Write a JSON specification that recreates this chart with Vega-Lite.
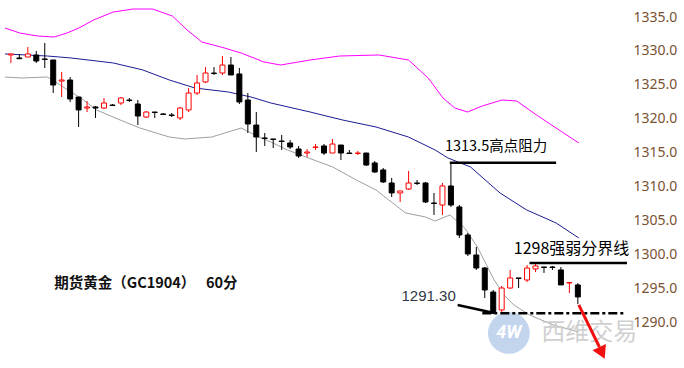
{
  "$schema": "https://vega.github.io/schema/vega-lite/v6.json",
  "width": 632,
  "height": 368,
  "padding": 0,
  "background": "white",
  "config": {"view": {"stroke": null}},
  "datasets": {
    "candles": [
      {"k":0,"o":1329.40,"c":1329.55,"h":1329.55,"l":1328.22},
      {"k":1,"o":1328.96,"c":1328.85,"h":1329.55,"l":1328.81},
      {"k":2,"o":1329.10,"c":1329.55,"h":1330.58,"l":1329.10},
      {"k":3,"o":1329.40,"c":1328.51,"h":1329.99,"l":1328.22},
      {"k":4,"o":1328.81,"c":1328.74,"h":1331.17,"l":1327.48},
      {"k":5,"o":1328.66,"c":1324.97,"h":1328.66,"l":1323.79},
      {"k":6,"o":1325.56,"c":1325.71,"h":1326.89,"l":1323.20},
      {"k":7,"o":1325.71,"c":1322.91,"h":1326.15,"l":1322.47},
      {"k":8,"o":1323.20,"c":1321.29,"h":1323.20,"l":1318.78},
      {"k":9,"o":1321.58,"c":1321.73,"h":1322.61,"l":1320.99},
      {"k":10,"o":1321.73,"c":1321.58,"h":1321.88,"l":1320.11},
      {"k":11,"o":1321.58,"c":1322.32,"h":1323.06,"l":1321.43},
      {"k":12,"o":1322.02,"c":1321.95,"h":1322.17,"l":1321.88},
      {"k":13,"o":1322.32,"c":1323.06,"h":1323.20,"l":1322.02},
      {"k":14,"o":1322.76,"c":1322.69,"h":1323.06,"l":1322.47},
      {"k":15,"o":1322.17,"c":1320.40,"h":1322.76,"l":1319.07},
      {"k":16,"o":1320.25,"c":1320.99,"h":1321.14,"l":1320.11},
      {"k":17,"o":1320.99,"c":1320.92,"h":1320.99,"l":1320.11},
      {"k":18,"o":1320.70,"c":1320.63,"h":1320.84,"l":1320.55},
      {"k":19,"o":1320.55,"c":1320.48,"h":1320.84,"l":1320.25},
      {"k":20,"o":1320.11,"c":1321.58,"h":1321.73,"l":1319.81},
      {"k":21,"o":1321.29,"c":1323.79,"h":1324.53,"l":1320.99},
      {"k":22,"o":1323.79,"c":1325.27,"h":1326.45,"l":1323.50},
      {"k":23,"o":1325.42,"c":1326.74,"h":1327.62,"l":1325.27},
      {"k":24,"o":1326.74,"c":1326.67,"h":1327.62,"l":1326.45},
      {"k":25,"o":1326.74,"c":1327.92,"h":1329.25,"l":1326.45},
      {"k":26,"o":1327.92,"c":1326.45,"h":1329.10,"l":1326.45},
      {"k":27,"o":1326.60,"c":1322.47,"h":1327.48,"l":1322.17},
      {"k":28,"o":1322.76,"c":1319.22,"h":1323.79,"l":1317.89},
      {"k":29,"o":1319.07,"c":1317.30,"h":1320.99,"l":1315.09},
      {"k":30,"o":1317.16,"c":1317.09,"h":1317.89,"l":1315.98},
      {"k":31,"o":1317.01,"c":1316.94,"h":1317.01,"l":1315.68},
      {"k":32,"o":1316.71,"c":1316.64,"h":1317.60,"l":1315.39},
      {"k":33,"o":1316.42,"c":1315.83,"h":1316.86,"l":1315.53},
      {"k":34,"o":1315.53,"c":1314.50,"h":1315.98,"l":1314.21},
      {"k":35,"o":1314.94,"c":1315.09,"h":1315.53,"l":1314.35},
      {"k":36,"o":1315.76,"c":1315.83,"h":1316.27,"l":1315.39},
      {"k":37,"o":1315.98,"c":1314.94,"h":1316.27,"l":1314.65},
      {"k":38,"o":1314.94,"c":1316.27,"h":1317.01,"l":1314.94},
      {"k":39,"o":1316.12,"c":1314.94,"h":1316.12,"l":1313.91},
      {"k":40,"o":1314.94,"c":1314.87,"h":1315.39,"l":1314.87},
      {"k":41,"o":1314.87,"c":1314.94,"h":1315.24,"l":1314.65},
      {"k":42,"o":1314.94,"c":1313.17,"h":1314.94,"l":1313.03},
      {"k":43,"o":1313.47,"c":1312.14,"h":1313.76,"l":1312.00},
      {"k":44,"o":1312.44,"c":1310.67,"h":1312.73,"l":1310.52},
      {"k":45,"o":1310.52,"c":1309.05,"h":1311.26,"l":1308.46},
      {"k":46,"o":1309.05,"c":1309.34,"h":1309.34,"l":1307.72},
      {"k":47,"o":1309.63,"c":1310.52,"h":1312.29,"l":1309.49},
      {"k":48,"o":1310.52,"c":1310.45,"h":1310.96,"l":1310.22},
      {"k":49,"o":1310.52,"c":1307.72,"h":1310.67,"l":1307.57},
      {"k":50,"o":1307.57,"c":1307.50,"h":1309.05,"l":1305.80},
      {"k":51,"o":1307.27,"c":1310.08,"h":1310.52,"l":1305.80},
      {"k":52,"o":1310.08,"c":1307.27,"h":1313.50,"l":1306.98},
      {"k":53,"o":1306.98,"c":1302.85,"h":1307.27,"l":1302.41},
      {"k":54,"o":1302.85,"c":1300.05,"h":1303.14,"l":1299.75},
      {"k":55,"o":1299.90,"c":1297.98,"h":1301.08,"l":1297.69},
      {"k":56,"o":1297.98,"c":1294.74,"h":1298.13,"l":1293.56},
      {"k":57,"o":1294.44,"c":1291.35,"h":1294.74,"l":1291.30},
      {"k":58,"o":1291.79,"c":1295.03,"h":1295.33,"l":1291.35},
      {"k":59,"o":1295.03,"c":1296.51,"h":1297.69,"l":1294.89},
      {"k":60,"o":1296.51,"c":1296.44,"h":1296.51,"l":1295.03},
      {"k":61,"o":1296.21,"c":1297.98,"h":1298.42,"l":1295.92},
      {"k":62,"o":1297.84,"c":1298.28,"h":1298.57,"l":1297.39},
      {"k":63,"o":1298.13,"c":1298.06,"h":1298.13,"l":1297.25},
      {"k":64,"o":1298.13,"c":1298.06,"h":1298.28,"l":1297.69},
      {"k":65,"o":1297.69,"c":1295.48,"h":1298.13,"l":1295.48},
      {"k":66,"o":1295.77,"c":1295.84,"h":1295.92,"l":1294.30},
      {"k":67,"o":1295.48,"c":1293.71,"h":1295.77,"l":1292.67}
    ],
    "upper": [
      {"k":-0.70,"p":1333.38},{"k":1.05,"p":1332.64},{"k":3.14,"p":1332.20},{"k":5.12,"p":1332.05},
      {"k":6.63,"p":1332.64},{"k":8.03,"p":1333.38},{"k":9.77,"p":1334.56},{"k":12.10,"p":1335.74},
      {"k":14.42,"p":1336.18},{"k":16.75,"p":1336.18},{"k":19.08,"p":1335.15},{"k":20.82,"p":1333.09},
      {"k":22.56,"p":1331.32},{"k":25.24,"p":1330.43},{"k":27.22,"p":1329.69},{"k":29.89,"p":1328.37},
      {"k":31.87,"p":1327.92},{"k":35.36,"p":1328.66},{"k":38.85,"p":1329.25},{"k":43.50,"p":1329.40},
      {"k":46.99,"p":1328.66},{"k":49.31,"p":1326.01},{"k":51.06,"p":1323.06},{"k":52.46,"p":1321.58},
      {"k":53.97,"p":1320.99},{"k":55.71,"p":1321.88},{"k":58.04,"p":1322.76},{"k":59.78,"p":1322.61},
      {"k":62.11,"p":1320.55},{"k":64.43,"p":1318.63},{"k":67.11,"p":1316.42}
    ],
    "middle": [
      {"k":-0.70,"p":1329.55},{"k":4.30,"p":1329.25},{"k":7.09,"p":1328.96},{"k":12.10,"p":1328.22},
      {"k":15.59,"p":1327.19},{"k":18.73,"p":1325.71},{"k":21.75,"p":1324.53},{"k":25.70,"p":1323.94},
      {"k":28.38,"p":1323.20},{"k":30.71,"p":1322.32},{"k":35.36,"p":1320.99},{"k":39.20,"p":1319.81},
      {"k":43.15,"p":1318.78},{"k":46.99,"p":1317.30},{"k":50.13,"p":1315.39},{"k":51.64,"p":1314.21},
      {"k":54.32,"p":1312.88},{"k":57.81,"p":1309.04},{"k":60.95,"p":1306.54},{"k":64.43,"p":1304.62},
      {"k":67.11,"p":1302.41}
    ],
    "lower": [
      {"k":-0.70,"p":1326.15},{"k":1.28,"p":1326.01},{"k":4.30,"p":1326.15},{"k":5.12,"p":1325.56},
      {"k":7.09,"p":1323.94},{"k":8.26,"p":1323.06},{"k":10.12,"p":1321.29},{"k":12.91,"p":1319.81},
      {"k":15.24,"p":1318.63},{"k":18.73,"p":1317.30},{"k":20.59,"p":1317.01},{"k":23.73,"p":1317.30},
      {"k":27.22,"p":1318.63},{"k":29.31,"p":1317.30},{"k":30.71,"p":1316.57},{"k":32.68,"p":1315.39},
      {"k":34.54,"p":1314.50},{"k":38.03,"p":1312.88},{"k":40.82,"p":1310.96},{"k":43.15,"p":1309.49},
      {"k":44.66,"p":1308.01},{"k":46.64,"p":1306.10},{"k":48.97,"p":1305.51},{"k":50.13,"p":1304.91},
      {"k":51.88,"p":1305.80},{"k":53.62,"p":1303.88},{"k":55.13,"p":1301.08},{"k":57.11,"p":1296.21},
      {"k":58.27,"p":1294.00},{"k":59.43,"p":1292.53},{"k":61.29,"p":1291.05},{"k":64.09,"p":1289.58},
      {"k":67.11,"p":1288.54}
    ],
    "levels": [
      {"k1":51.87,"k2":64.43,"p1":1313.5,"p2":1313.5},
      {"k1":61.29,"k2":72.81,"p1":1298.7,"p2":1298.7},
      {"k1":52.80,"k2":57.11,"p1":1292.53,"p2":1291.35}
    ],
    "dashlevel": [
      {"k1":55.71,"k2":72.58,"p":1291.3}
    ],
    "arrow": [
      {"k1":67.11,"k2":69.55,"p1":1292.53,"p2":1286.33}
    ],
    "arrowhead": [
      {"k":69.85,"p":1285.45}
    ]
  },
  "layer": [
    {
      "data": {"name": "upper"},
      "mark": {"type": "line", "color": "#ff00ff", "strokeWidth": 1, "clip": true},
      "encoding": {
        "x": {"field": "k", "type": "quantitative", "scale": {"domain": [-0.698, 72.81], "nice": false, "zero": false}, "axis": null},
        "y": {"field": "p", "type": "quantitative", "scale": {"domain": [1283.23, 1337.51], "nice": false, "zero": false},
          "axis": {"orient": "right", "values": [1290,1295,1300,1305,1310,1315,1320,1325,1330,1335], "format": ".1f",
            "domain": false, "ticks": false, "grid": false, "labelPadding": 1, "labelFont": "Noto Sans", "labelFontSize": 14,
            "labelColor": "#7a5230", "title": null}}
      }
    },
    {
      "data": {"name": "middle"},
      "mark": {"type": "line", "color": "#1c1c96", "strokeWidth": 1, "clip": true},
      "encoding": {
        "x": {"field": "k", "type": "quantitative"},
        "y": {"field": "p", "type": "quantitative"}
      }
    },
    {
      "data": {"name": "lower"},
      "mark": {"type": "line", "color": "#a0a0a0", "strokeWidth": 1, "clip": true},
      "encoding": {
        "x": {"field": "k", "type": "quantitative"},
        "y": {"field": "p", "type": "quantitative"}
      }
    },
    {
      "data": {"values": [{"k": 58.85, "p": 1288.4}]},
      "mark": {"type": "point", "shape": "circle", "filled": true, "size": 1750, "color": "#b9cdea", "opacity": 0.85},
      "encoding": {
        "x": {"field": "k", "type": "quantitative"},
        "y": {"field": "p", "type": "quantitative"}
      }
    },
    {
      "data": {"values": [{"k": 58.85, "p": 1288.4, "t": "4W"}]},
      "mark": {"type": "text", "font": "Roboto", "fontWeight": "bold", "fontSize": 18, "color": "white", "fontStyle": "italic", "align": "center", "baseline": "middle"},
      "encoding": {
        "x": {"field": "k", "type": "quantitative"},
        "y": {"field": "p", "type": "quantitative"},
        "text": {"field": "t"}
      }
    },
    {
      "data": {"values": [{"k": 62.69, "p": 1288.4, "t": "西维交易"}]},
      "mark": {"type": "text", "font": "Noto Sans CJK SC", "fontSize": 24, "color": "#cccccc", "opacity": 0.9, "align": "left", "baseline": "middle"},
      "encoding": {
        "x": {"field": "k", "type": "quantitative"},
        "y": {"field": "p", "type": "quantitative"},
        "text": {"field": "t"}
      }
    },
    {
      "data": {"name": "candles"},
      "mark": {"type": "rule", "strokeWidth": 1},
      "encoding": {
        "x": {"field": "k", "type": "quantitative"},
        "y": {"field": "l", "type": "quantitative"},
        "y2": {"field": "h"},
        "color": {"condition": {"test": "datum.c > datum.o", "value": "#ff0000"}, "value": "#000000"}
      }
    },
    {
      "data": {"name": "candles"},
      "mark": {"type": "bar", "width": 5, "strokeWidth": 1},
      "encoding": {
        "x": {"field": "k", "type": "quantitative"},
        "y": {"field": "o", "type": "quantitative"},
        "y2": {"field": "c"},
        "fill": {"condition": {"test": "datum.c > datum.o", "value": "#ffffff"}, "value": "#000000"},
        "stroke": {"condition": {"test": "datum.c > datum.o", "value": "#ff0000"}, "value": "#000000"}
      }
    },
    {
      "data": {"name": "levels"},
      "mark": {"type": "rule", "color": "#000000", "strokeWidth": 2.5},
      "encoding": {
        "x": {"field": "k1", "type": "quantitative"},
        "x2": {"field": "k2"},
        "y": {"field": "p1", "type": "quantitative"},
        "y2": {"field": "p2"}
      }
    },
    {
      "data": {"name": "dashlevel"},
      "mark": {"type": "rule", "color": "#000000", "strokeWidth": 2.5, "strokeDash": [9, 3, 3, 3]},
      "encoding": {
        "x": {"field": "k1", "type": "quantitative"},
        "x2": {"field": "k2"},
        "y": {"field": "p", "type": "quantitative"}
      }
    },
    {
      "data": {"name": "arrow"},
      "mark": {"type": "rule", "color": "#f01010", "strokeWidth": 3},
      "encoding": {
        "x": {"field": "k1", "type": "quantitative"},
        "x2": {"field": "k2"},
        "y": {"field": "p1", "type": "quantitative"},
        "y2": {"field": "p2"}
      }
    },
    {
      "data": {"name": "arrowhead"},
      "mark": {"type": "point", "shape": "triangle-up", "filled": true, "size": 220, "color": "#f01010", "opacity": 1, "angle": 155},
      "encoding": {
        "x": {"field": "k", "type": "quantitative"},
        "y": {"field": "p", "type": "quantitative"}
      }
    },
    {
      "data": {"values": [{"k": 51.29, "p": 1315.83, "t": "1313.5高点阻力"}]},
      "mark": {"type": "text", "font": "Noto Sans CJK SC", "fontSize": 14.5, "color": "#000000", "align": "left", "baseline": "middle"},
      "encoding": {
        "x": {"field": "k", "type": "quantitative"},
        "y": {"field": "p", "type": "quantitative"},
        "text": {"field": "t"}
      }
    },
    {
      "data": {"values": [{"k": 59.43, "p": 1300.79, "t": "1298强弱分界线"}]},
      "mark": {"type": "text", "font": "Noto Sans CJK SC", "fontSize": 16, "color": "#000000", "align": "left", "baseline": "middle"},
      "encoding": {
        "x": {"field": "k", "type": "quantitative"},
        "y": {"field": "p", "type": "quantitative"},
        "text": {"field": "t"}
      }
    },
    {
      "data": {"values": [{"k": 52.57, "p": 1293.85, "t": "1291.30"}]},
      "mark": {"type": "text", "font": "Liberation Sans", "fontSize": 15, "color": "#2f3846", "align": "right", "baseline": "middle"},
      "encoding": {
        "x": {"field": "k", "type": "quantitative"},
        "y": {"field": "p", "type": "quantitative"},
        "text": {"field": "t"}
      }
    },
    {
      "data": {"values": [{"k": 5.12, "p": 1295.62, "t": "期货黄金（GC1904）　 60分"}]},
      "mark": {"type": "text", "font": "Noto Sans CJK SC", "fontSize": 14.5, "fontWeight": "bold", "color": "#111111", "align": "left", "baseline": "middle"},
      "encoding": {
        "x": {"field": "k", "type": "quantitative"},
        "y": {"field": "p", "type": "quantitative"},
        "text": {"field": "t"}
      }
    }
  ]
}
